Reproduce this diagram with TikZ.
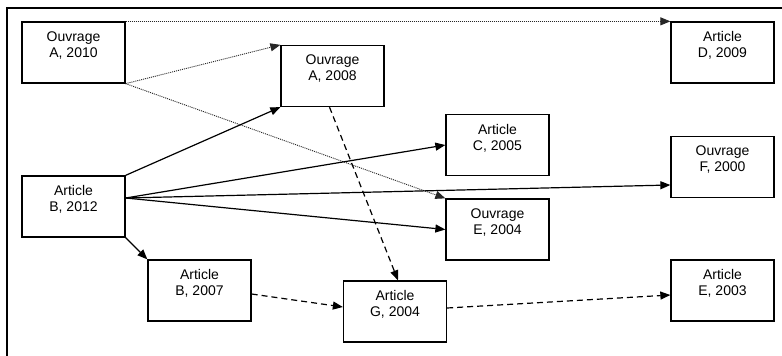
\documentclass[tikz,border=0pt]{standalone}
\usepackage{fontspec}
\setmainfont{Liberation Sans}
\usetikzlibrary{arrows.meta}
\begin{document}
\begin{tikzpicture}[x=1pt,y=-1pt,
  box/.style={draw,line width=1.3pt,minimum width=103pt,minimum height=61pt,inner sep=0pt,align=center,font=\fontsize{14}{16}\selectfont},
  link/.style={line width=1.2pt,-{Triangle[length=10pt,width=8pt]}},
  dotlink/.style={link,line width=0.9pt,dash pattern=on 1pt off 1pt,color=black!85},
  dashlink/.style={link,dash pattern=on 6pt off 4pt}]
\useasboundingbox (0,0) rectangle (782,356);
\fill[white] (0,0) rectangle (782,356);
\draw[line width=1.3pt] (782,8) -- (7,8) -- (7,356);
\node[box] (a10) at (73.5,52.5) {Ouvrage\\A, 2010\\~};
\node[box] (a08) at (332.5,76) {Ouvrage\\A, 2008\\~};
\node[box] (d09) at (722.5,52.5) {Article\\D, 2009\\~};
\node[box] (c05) at (497.5,145) {Article\\C, 2005\\~};
\node[box] (f00) at (722.5,167) {Ouvrage\\F, 2000\\~};
\node[box] (b12) at (73.5,206.5) {Article\\B, 2012\\~};
\node[box] (e04) at (497.5,229.5) {Ouvrage\\E, 2004\\~};
\node[box] (b07) at (199.5,290.5) {Article\\B, 2007\\~};
\node[box] (g04) at (395,311.5) {Article\\G, 2004\\~};
\node[box] (e03) at (722.5,290.5) {Article\\E, 2003\\~};
\draw[dotlink] (a10.north east) -- (d09.north west);
\draw[dotlink] (a10.south east) -- (a08.north west);
\draw[dotlink] (a10.south east) -- (e04.north west);
\draw[link] (b12.north east) -- (a08.south west);
\draw[link] ([yshift=8.5pt]b12.east) -- (c05.west);
\draw[link] ([yshift=8.5pt]b12.east) -- ([yshift=-18pt]f00.west);
\draw[link] ([yshift=8.5pt]b12.east) -- (e04.west);
\draw[link] (b12.south east) -- (b07.north west);
\draw[dashlink] ([xshift=-3pt]a08.south) -- ([xshift=3pt]g04.north);
\draw[dashlink] ([yshift=-3.5pt]b07.east) -- ([yshift=4.5pt]g04.west);
\draw[dashlink] ([yshift=3.5pt]g04.east) -- ([yshift=-4.5pt]e03.west);
\end{tikzpicture}
\end{document}
